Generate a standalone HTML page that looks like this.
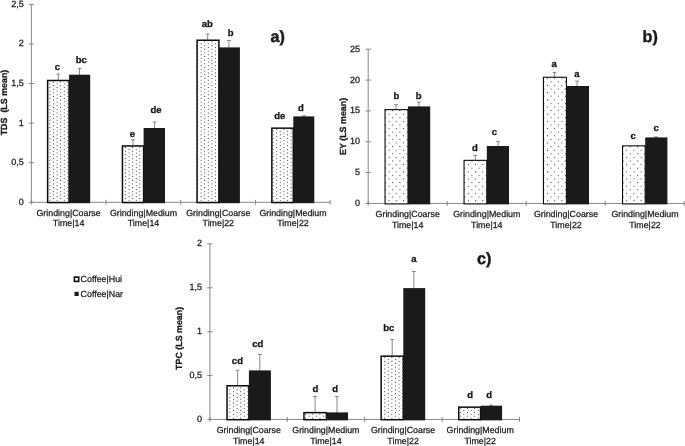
<!DOCTYPE html>
<html><head><meta charset="utf-8"><title>chart</title>
<style>html,body{margin:0;padding:0;background:#fff;}svg{display:block;font-family:'Liberation Sans',sans-serif;}line{stroke-width:1}text{text-rendering:geometricPrecision}.r{stroke:#1a1a1a;stroke-width:0.25px}.b{stroke:#1a1a1a;stroke-width:0.3px}</style>
</head><body>
<svg width="685" height="446" viewBox="0 0 685 446">
<defs>
<pattern id="pa" x="53" y="85.2" width="7.2" height="3.64" patternUnits="userSpaceOnUse"><rect width="7.2" height="3.64" fill="#fff"/><rect x="0" y="0" width="1.0" height="1.0" fill="#3a3a3a"/><rect x="3.6" y="1.82" width="1.0" height="1.0" fill="#3a3a3a"/></pattern>
<pattern id="pb" x="388.6" y="113.7" width="7.2" height="7.2" patternUnits="userSpaceOnUse"><rect width="7.2" height="7.2" fill="#fff"/><rect x="0" y="0" width="1.0" height="1.0" fill="#3a3a3a"/><rect x="3.6" y="3.6" width="1.0" height="1.0" fill="#3a3a3a"/></pattern>
<pattern id="pc" x="233" y="387.4" width="7.2" height="3.77" patternUnits="userSpaceOnUse"><rect width="7.2" height="3.77" fill="#fff"/><rect x="0" y="0" width="1.0" height="1.0" fill="#3a3a3a"/><rect x="3.6" y="1.89" width="1.0" height="1.0" fill="#3a3a3a"/></pattern>
</defs>
<rect width="685" height="446" fill="#fff"/>
<g opacity="0.999">
<g>
<line x1="31.35" y1="4.4" x2="31.35" y2="202.3" stroke="#868686"/>
<line x1="31.35" y1="202.3" x2="330.15" y2="202.3" stroke="#868686"/>
<line x1="28.75" y1="202.3" x2="33.95" y2="202.3" stroke="#868686"/>
<text x="23.65" y="204.8" class="r" text-anchor="end" font-size="9.0" fill="#1a1a1a">0</text>
<line x1="28.75" y1="162.72" x2="33.95" y2="162.72" stroke="#868686"/>
<text x="23.65" y="165.22" class="r" text-anchor="end" font-size="9.0" fill="#1a1a1a">0,5</text>
<line x1="28.75" y1="123.14" x2="33.95" y2="123.14" stroke="#868686"/>
<text x="23.65" y="125.64" class="r" text-anchor="end" font-size="9.0" fill="#1a1a1a">1</text>
<line x1="28.75" y1="83.56" x2="33.95" y2="83.56" stroke="#868686"/>
<text x="23.65" y="86.06" class="r" text-anchor="end" font-size="9.0" fill="#1a1a1a">1,5</text>
<line x1="28.75" y1="43.98" x2="33.95" y2="43.98" stroke="#868686"/>
<text x="23.65" y="46.48" class="r" text-anchor="end" font-size="9.0" fill="#1a1a1a">2</text>
<line x1="28.75" y1="4.4" x2="33.95" y2="4.4" stroke="#868686"/>
<text x="23.65" y="6.9" class="r" text-anchor="end" font-size="9.0" fill="#1a1a1a">2,5</text>
<line x1="31.35" y1="199.9" x2="31.35" y2="204.7" stroke="#868686"/>
<line x1="106.05" y1="199.9" x2="106.05" y2="204.7" stroke="#868686"/>
<line x1="180.75" y1="199.9" x2="180.75" y2="204.7" stroke="#868686"/>
<line x1="255.45" y1="199.9" x2="255.45" y2="204.7" stroke="#868686"/>
<line x1="330.15" y1="199.9" x2="330.15" y2="204.7" stroke="#868686"/>
<text x="68.6" y="215.5" class="r" text-anchor="middle" font-size="8.85" fill="#1a1a1a">Grinding|Coarse</text>
<text x="68.6" y="225.6" class="r" text-anchor="middle" font-size="8.85" fill="#1a1a1a">Time|14</text>
<text x="143.5" y="215.5" class="r" text-anchor="middle" font-size="8.85" fill="#1a1a1a">Grinding|Medium</text>
<text x="143.5" y="225.6" class="r" text-anchor="middle" font-size="8.85" fill="#1a1a1a">Time|14</text>
<text x="218.3" y="215.5" class="r" text-anchor="middle" font-size="8.85" fill="#1a1a1a">Grinding|Coarse</text>
<text x="218.3" y="225.6" class="r" text-anchor="middle" font-size="8.85" fill="#1a1a1a">Time|22</text>
<text x="293" y="215.5" class="r" text-anchor="middle" font-size="8.85" fill="#1a1a1a">Grinding|Medium</text>
<text x="293" y="225.6" class="r" text-anchor="middle" font-size="8.85" fill="#1a1a1a">Time|22</text>
<line x1="58.3" y1="74.1" x2="58.3" y2="80.25" stroke="#868686"/>
<line x1="56.4" y1="74.1" x2="60.2" y2="74.1" stroke="#868686"/>
<line x1="79.5" y1="68.5" x2="79.5" y2="75.2" stroke="#868686"/>
<line x1="77.6" y1="68.5" x2="81.4" y2="68.5" stroke="#868686"/>
<rect x="47.65" y="80.5" width="21.45" height="122.05" fill="url(#pa)" stroke="#0a0a0a" stroke-width="1.5"/>
<rect x="69.1" y="74.7" width="21.1" height="128.5" fill="#1a1a1a"/>
<text x="57.5" y="69.5" class="b" text-anchor="middle" font-size="9.5" font-weight="bold" fill="#1a1a1a">c</text>
<text x="81.2" y="62.6" class="b" text-anchor="middle" font-size="9.5" font-weight="bold" fill="#1a1a1a">bc</text>
<line x1="133" y1="139.7" x2="133" y2="145.7" stroke="#868686"/>
<line x1="131.1" y1="139.7" x2="134.9" y2="139.7" stroke="#868686"/>
<line x1="154.6" y1="122" x2="154.6" y2="128.5" stroke="#868686"/>
<line x1="152.7" y1="122" x2="156.5" y2="122" stroke="#868686"/>
<rect x="122.45" y="145.95" width="21.15" height="56.6" fill="url(#pa)" stroke="#0a0a0a" stroke-width="1.5"/>
<rect x="143.6" y="128" width="21.4" height="75.2" fill="#1a1a1a"/>
<text x="132.3" y="136.8" class="b" text-anchor="middle" font-size="9.5" font-weight="bold" fill="#1a1a1a">e</text>
<text x="156" y="113.2" class="b" text-anchor="middle" font-size="9.5" font-weight="bold" fill="#1a1a1a">de</text>
<line x1="207.7" y1="34.1" x2="207.7" y2="40" stroke="#868686"/>
<line x1="205.8" y1="34.1" x2="209.6" y2="34.1" stroke="#868686"/>
<line x1="228.9" y1="40.5" x2="228.9" y2="47.9" stroke="#868686"/>
<line x1="227" y1="40.5" x2="230.8" y2="40.5" stroke="#868686"/>
<rect x="197.05" y="40.25" width="21.85" height="162.3" fill="url(#pa)" stroke="#0a0a0a" stroke-width="1.5"/>
<rect x="218.9" y="47.4" width="21" height="155.8" fill="#1a1a1a"/>
<text x="207.3" y="26.7" class="b" text-anchor="middle" font-size="9.5" font-weight="bold" fill="#1a1a1a">ab</text>
<text x="230.6" y="35.5" class="b" text-anchor="middle" font-size="9.5" font-weight="bold" fill="#1a1a1a">b</text>
<line x1="304" y1="115.9" x2="304" y2="116.9" stroke="#868686"/>
<line x1="302.1" y1="115.9" x2="305.9" y2="115.9" stroke="#868686"/>
<rect x="271.85" y="128.15" width="21.45" height="74.4" fill="url(#pa)" stroke="#0a0a0a" stroke-width="1.5"/>
<rect x="293.3" y="116.4" width="21" height="86.8" fill="#1a1a1a"/>
<text x="279.8" y="118.9" class="b" text-anchor="middle" font-size="9.5" font-weight="bold" fill="#1a1a1a">de</text>
<text x="300.8" y="110.7" class="b" text-anchor="middle" font-size="9.5" font-weight="bold" fill="#1a1a1a">d</text>
<text transform="translate(7.4,102.5) rotate(-90)" class="b" text-anchor="middle" font-size="8.9" font-weight="bold" fill="#1a1a1a" xml:space="preserve">TDS  (LS mean)</text>
</g>
<g>
<line x1="368.2" y1="49.2" x2="368.2" y2="203.45" stroke="#868686"/>
<line x1="368.2" y1="203.45" x2="685" y2="203.45" stroke="#868686"/>
<line x1="365.6" y1="203.45" x2="370.8" y2="203.45" stroke="#868686"/>
<text x="360.05" y="205.95" class="r" text-anchor="end" font-size="9.0" fill="#1a1a1a">0</text>
<line x1="365.6" y1="172.6" x2="370.8" y2="172.6" stroke="#868686"/>
<text x="360.05" y="175.1" class="r" text-anchor="end" font-size="9.0" fill="#1a1a1a">5</text>
<line x1="365.6" y1="141.75" x2="370.8" y2="141.75" stroke="#868686"/>
<text x="360.05" y="144.25" class="r" text-anchor="end" font-size="9.0" fill="#1a1a1a">10</text>
<line x1="365.6" y1="110.9" x2="370.8" y2="110.9" stroke="#868686"/>
<text x="360.05" y="113.4" class="r" text-anchor="end" font-size="9.0" fill="#1a1a1a">15</text>
<line x1="365.6" y1="80.05" x2="370.8" y2="80.05" stroke="#868686"/>
<text x="360.05" y="82.55" class="r" text-anchor="end" font-size="9.0" fill="#1a1a1a">20</text>
<line x1="365.6" y1="49.2" x2="370.8" y2="49.2" stroke="#868686"/>
<text x="360.05" y="51.7" class="r" text-anchor="end" font-size="9.0" fill="#1a1a1a">25</text>
<line x1="368.2" y1="201.05" x2="368.2" y2="205.85" stroke="#868686"/>
<line x1="447.2" y1="201.05" x2="447.2" y2="205.85" stroke="#868686"/>
<line x1="526.2" y1="201.05" x2="526.2" y2="205.85" stroke="#868686"/>
<line x1="605.2" y1="201.05" x2="605.2" y2="205.85" stroke="#868686"/>
<line x1="684.2" y1="201.05" x2="684.2" y2="205.85" stroke="#868686"/>
<text x="407.7" y="216.95" class="r" text-anchor="middle" font-size="8.85" fill="#1a1a1a">Grinding|Coarse</text>
<text x="407.7" y="227.65" class="r" text-anchor="middle" font-size="8.85" fill="#1a1a1a">Time|14</text>
<text x="486.8" y="216.95" class="r" text-anchor="middle" font-size="8.85" fill="#1a1a1a">Grinding|Medium</text>
<text x="486.8" y="227.65" class="r" text-anchor="middle" font-size="8.85" fill="#1a1a1a">Time|14</text>
<text x="566" y="216.95" class="r" text-anchor="middle" font-size="8.85" fill="#1a1a1a">Grinding|Coarse</text>
<text x="566" y="227.65" class="r" text-anchor="middle" font-size="8.85" fill="#1a1a1a">Time|22</text>
<text x="645" y="216.95" class="r" text-anchor="middle" font-size="8.85" fill="#1a1a1a">Grinding|Medium</text>
<text x="645" y="227.65" class="r" text-anchor="middle" font-size="8.85" fill="#1a1a1a">Time|22</text>
<line x1="396.1" y1="104.7" x2="396.1" y2="109.6" stroke="#868686"/>
<line x1="394.2" y1="104.7" x2="398" y2="104.7" stroke="#868686"/>
<line x1="418.9" y1="102.2" x2="418.9" y2="106.9" stroke="#868686"/>
<line x1="417" y1="102.2" x2="420.8" y2="102.2" stroke="#868686"/>
<rect x="385.05" y="109.65" width="22.95" height="94.25" fill="url(#pb)" stroke="#0a0a0a" stroke-width="1.1"/>
<rect x="408" y="106.4" width="22.2" height="97.95" fill="#1a1a1a"/>
<text x="396.5" y="99.1" class="b" text-anchor="middle" font-size="9.5" font-weight="bold" fill="#1a1a1a">b</text>
<text x="418.7" y="99.1" class="b" text-anchor="middle" font-size="9.5" font-weight="bold" fill="#1a1a1a">b</text>
<line x1="475.3" y1="155.5" x2="475.3" y2="160.3" stroke="#868686"/>
<line x1="473.4" y1="155.5" x2="477.2" y2="155.5" stroke="#868686"/>
<line x1="498.1" y1="141.6" x2="498.1" y2="146.5" stroke="#868686"/>
<line x1="496.2" y1="141.6" x2="500" y2="141.6" stroke="#868686"/>
<rect x="464.05" y="160.35" width="22.75" height="43.55" fill="url(#pb)" stroke="#0a0a0a" stroke-width="1.1"/>
<rect x="486.8" y="146" width="22.2" height="58.35" fill="#1a1a1a"/>
<text x="474.8" y="150.8" class="b" text-anchor="middle" font-size="9.5" font-weight="bold" fill="#1a1a1a">d</text>
<text x="494.4" y="135.4" class="b" text-anchor="middle" font-size="9.5" font-weight="bold" fill="#1a1a1a">c</text>
<line x1="554.5" y1="72.6" x2="554.5" y2="77.2" stroke="#868686"/>
<line x1="552.6" y1="72.6" x2="556.4" y2="72.6" stroke="#868686"/>
<line x1="577.1" y1="81.1" x2="577.1" y2="86.5" stroke="#868686"/>
<line x1="575.2" y1="81.1" x2="579" y2="81.1" stroke="#868686"/>
<rect x="543.45" y="77.25" width="22.95" height="126.65" fill="url(#pb)" stroke="#0a0a0a" stroke-width="1.1"/>
<rect x="566.4" y="86" width="22.6" height="118.35" fill="#1a1a1a"/>
<text x="554.2" y="66.7" class="b" text-anchor="middle" font-size="9.5" font-weight="bold" fill="#1a1a1a">a</text>
<text x="576.8" y="76.6" class="b" text-anchor="middle" font-size="9.5" font-weight="bold" fill="#1a1a1a">a</text>
<line x1="656" y1="136.9" x2="656" y2="137.9" stroke="#868686"/>
<line x1="654.1" y1="136.9" x2="657.9" y2="136.9" stroke="#868686"/>
<rect x="622.55" y="145.85" width="22.65" height="58.05" fill="url(#pb)" stroke="#0a0a0a" stroke-width="1.1"/>
<rect x="645.2" y="137.4" width="22.2" height="66.95" fill="#1a1a1a"/>
<text x="633.1" y="138.5" class="b" text-anchor="middle" font-size="9.5" font-weight="bold" fill="#1a1a1a">c</text>
<text x="656.1" y="131" class="b" text-anchor="middle" font-size="9.5" font-weight="bold" fill="#1a1a1a">c</text>
<text transform="translate(346,126.4) rotate(-90)" class="b" text-anchor="middle" font-size="8.9" font-weight="bold" fill="#1a1a1a" xml:space="preserve">EY (LS mean)</text>
</g>
<g>
<line x1="209.9" y1="243.9" x2="209.9" y2="419.45" stroke="#868686"/>
<line x1="209.9" y1="419.45" x2="519.5" y2="419.45" stroke="#868686"/>
<line x1="207.3" y1="419.45" x2="212.5" y2="419.45" stroke="#868686"/>
<text x="202" y="421.95" class="r" text-anchor="end" font-size="9.0" fill="#1a1a1a">0</text>
<line x1="207.3" y1="375.56" x2="212.5" y2="375.56" stroke="#868686"/>
<text x="202" y="378.06" class="r" text-anchor="end" font-size="9.0" fill="#1a1a1a">0,5</text>
<line x1="207.3" y1="331.68" x2="212.5" y2="331.68" stroke="#868686"/>
<text x="202" y="334.18" class="r" text-anchor="end" font-size="9.0" fill="#1a1a1a">1</text>
<line x1="207.3" y1="287.79" x2="212.5" y2="287.79" stroke="#868686"/>
<text x="202" y="290.29" class="r" text-anchor="end" font-size="9.0" fill="#1a1a1a">1,5</text>
<line x1="207.3" y1="243.9" x2="212.5" y2="243.9" stroke="#868686"/>
<text x="202" y="246.4" class="r" text-anchor="end" font-size="9.0" fill="#1a1a1a">2</text>
<line x1="209.9" y1="417.05" x2="209.9" y2="421.85" stroke="#868686"/>
<line x1="287.3" y1="417.05" x2="287.3" y2="421.85" stroke="#868686"/>
<line x1="364.7" y1="417.05" x2="364.7" y2="421.85" stroke="#868686"/>
<line x1="442.1" y1="417.05" x2="442.1" y2="421.85" stroke="#868686"/>
<line x1="519.5" y1="417.05" x2="519.5" y2="421.85" stroke="#868686"/>
<text x="248.8" y="433.3" class="r" text-anchor="middle" font-size="8.85" fill="#1a1a1a">Grinding|Coarse</text>
<text x="248.8" y="443.65" class="r" text-anchor="middle" font-size="8.85" fill="#1a1a1a">Time|14</text>
<text x="325.9" y="433.3" class="r" text-anchor="middle" font-size="8.85" fill="#1a1a1a">Grinding|Medium</text>
<text x="325.9" y="443.65" class="r" text-anchor="middle" font-size="8.85" fill="#1a1a1a">Time|14</text>
<text x="403.1" y="433.3" class="r" text-anchor="middle" font-size="8.85" fill="#1a1a1a">Grinding|Coarse</text>
<text x="403.1" y="443.65" class="r" text-anchor="middle" font-size="8.85" fill="#1a1a1a">Time|22</text>
<text x="480.2" y="433.3" class="r" text-anchor="middle" font-size="8.85" fill="#1a1a1a">Grinding|Medium</text>
<text x="480.2" y="443.65" class="r" text-anchor="middle" font-size="8.85" fill="#1a1a1a">Time|22</text>
<line x1="237.6" y1="370.2" x2="237.6" y2="385.5" stroke="#868686"/>
<line x1="235.7" y1="370.2" x2="239.5" y2="370.2" stroke="#868686"/>
<line x1="259.8" y1="354.5" x2="259.8" y2="370.9" stroke="#868686"/>
<line x1="257.9" y1="354.5" x2="261.7" y2="354.5" stroke="#868686"/>
<rect x="227.05" y="385.75" width="21.85" height="33.95" fill="url(#pc)" stroke="#0a0a0a" stroke-width="1.5"/>
<rect x="248.9" y="370.4" width="22" height="49.95" fill="#1a1a1a"/>
<text x="237.4" y="363.9" class="b" text-anchor="middle" font-size="9.5" font-weight="bold" fill="#1a1a1a">cd</text>
<text x="257.7" y="346.9" class="b" text-anchor="middle" font-size="9.5" font-weight="bold" fill="#1a1a1a">cd</text>
<line x1="315.1" y1="396.5" x2="315.1" y2="412.4" stroke="#868686"/>
<line x1="313.2" y1="396.5" x2="317" y2="396.5" stroke="#868686"/>
<line x1="337" y1="396.5" x2="337" y2="412.9" stroke="#868686"/>
<line x1="335.1" y1="396.5" x2="338.9" y2="396.5" stroke="#868686"/>
<rect x="303.95" y="412.65" width="22.45" height="7.05" fill="url(#pc)" stroke="#0a0a0a" stroke-width="1.5"/>
<rect x="326.4" y="412.4" width="21.6" height="7.95" fill="#1a1a1a"/>
<text x="315.5" y="391.8" class="b" text-anchor="middle" font-size="9.5" font-weight="bold" fill="#1a1a1a">d</text>
<text x="335.2" y="391.8" class="b" text-anchor="middle" font-size="9.5" font-weight="bold" fill="#1a1a1a">d</text>
<line x1="392.2" y1="339.5" x2="392.2" y2="355.9" stroke="#868686"/>
<line x1="390.3" y1="339.5" x2="394.1" y2="339.5" stroke="#868686"/>
<line x1="413.9" y1="271.5" x2="413.9" y2="288.6" stroke="#868686"/>
<line x1="412" y1="271.5" x2="415.8" y2="271.5" stroke="#868686"/>
<rect x="381.15" y="356.15" width="22.15" height="63.55" fill="url(#pc)" stroke="#0a0a0a" stroke-width="1.5"/>
<rect x="403.3" y="288.1" width="21.9" height="132.25" fill="#1a1a1a"/>
<text x="388.8" y="331" class="b" text-anchor="middle" font-size="9.5" font-weight="bold" fill="#1a1a1a">bc</text>
<text x="413.9" y="262.3" class="b" text-anchor="middle" font-size="9.5" font-weight="bold" fill="#1a1a1a">a</text>
<line x1="491" y1="405.2" x2="491" y2="406.2" stroke="#868686"/>
<line x1="489.1" y1="405.2" x2="492.9" y2="405.2" stroke="#868686"/>
<rect x="458.75" y="407.15" width="21.85" height="12.55" fill="url(#pc)" stroke="#0a0a0a" stroke-width="1.5"/>
<rect x="480.6" y="405.7" width="21.5" height="14.65" fill="#1a1a1a"/>
<text x="470.1" y="398" class="b" text-anchor="middle" font-size="9.5" font-weight="bold" fill="#1a1a1a">d</text>
<text x="489.2" y="398" class="b" text-anchor="middle" font-size="9.5" font-weight="bold" fill="#1a1a1a">d</text>
<text transform="translate(181.5,338.4) rotate(-90)" class="b" text-anchor="middle" font-size="8.9" font-weight="bold" fill="#1a1a1a" xml:space="preserve">TPC (LS mean)</text>
</g>
<text x="270.4" y="42.1" font-size="16.2" font-weight="bold" stroke="#1a1a1a" stroke-width="0.45" fill="#1a1a1a">a)</text>
<text x="642.5" y="41.7" font-size="16.2" font-weight="bold" stroke="#1a1a1a" stroke-width="0.45" fill="#1a1a1a">b)</text>
<text x="477.0" y="264.1" font-size="16.2" font-weight="bold" stroke="#1a1a1a" stroke-width="0.45" fill="#1a1a1a">c)</text>
<rect x="74.4" y="277.1" width="4.3" height="4.3" fill="#fff" stroke="#0a0a0a" stroke-width="1.6"/>
<text x="80.6" y="282.0" class="r" font-size="8.85" fill="#1a1a1a">Coffee|Hui</text>
<rect x="74.5" y="291.8" width="4.2" height="4.2" fill="#1a1a1a"/>
<text x="80.6" y="296.6" class="r" font-size="8.85" fill="#1a1a1a">Coffee|Nar</text>
</g>
</svg>
</body></html>
